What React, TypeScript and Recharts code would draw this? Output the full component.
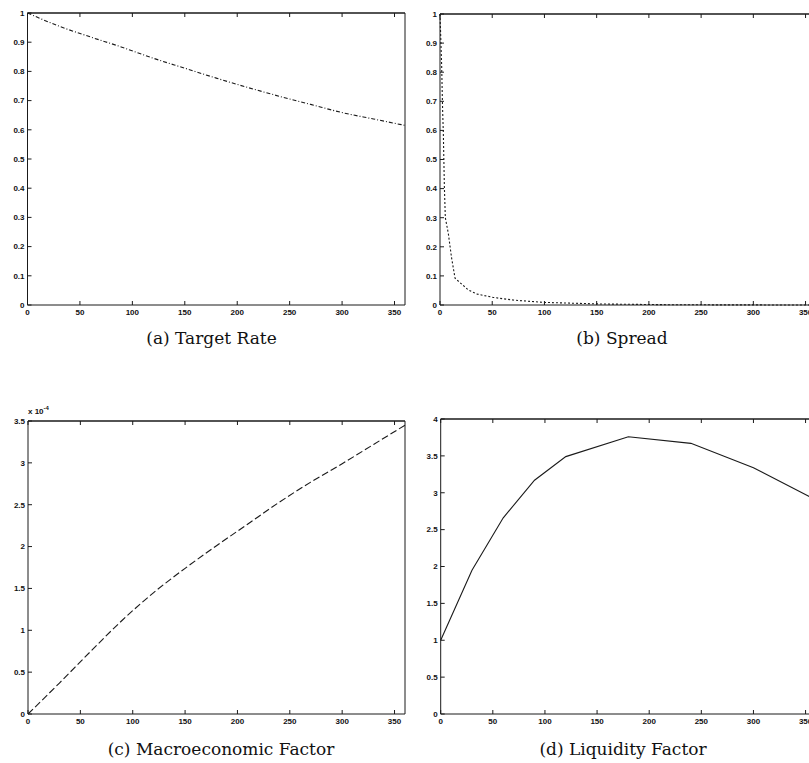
import { LineChart, Line, XAxis, YAxis } from 'recharts';

// horizon (months) on every panel
const monthTicks = [0, 50, 100, 150, 200, 250, 300, 350];
const unitTicks = [0, 0.1, 0.2, 0.3, 0.4, 0.5, 0.6, 0.7, 0.8, 0.9, 1];
const macroTicks = [0, 0.5, 1, 1.5, 2, 2.5, 3, 3.5];
const liquidityTicks = [0, 0.5, 1, 1.5, 2, 2.5, 3, 3.5, 4];

// (a) target rate
const targetMonths = [0, 30, 60, 90, 120, 150, 180, 210, 240, 270, 300, 330, 360];
const targetValues = [1, 0.955, 0.918, 0.883, 0.845, 0.811, 0.777, 0.745, 0.715, 0.687, 0.659, 0.637, 0.615];

// (b) spread
const spreadMonths = [0, 1.6, 2.5, 3.2, 4.2, 5.1, 8, 11, 14.4, 27, 35, 51, 70, 99, 154, 218, 260, 300, 360];
const spreadValues = [1, 0.82, 0.67, 0.59, 0.405, 0.3, 0.245, 0.164, 0.092, 0.052, 0.038, 0.026, 0.017, 0.009, 0.0035, 0.001, 0.0006, 0.0003, 0];

// (c) macroeconomic factor, x 10^-4
const macroMonths = [0, 30, 60, 90, 120, 150, 180, 210, 240, 270, 300, 330, 360];
const macroValues = [0, 0.37, 0.75, 1.12, 1.45, 1.74, 2.01, 2.27, 2.53, 2.77, 2.99, 3.22, 3.45];

// (d) liquidity factor
const liquidityMonths = [0, 30, 60, 90, 120, 180, 240, 300, 360];
const liquidityValues = [1, 1.95, 2.66, 3.17, 3.49, 3.76, 3.67, 3.34, 2.9];

const toRows = (xs: number[], ys: number[]) => xs.map((t, i) => ({ t, v: ys[i] }));

const ink = '#1a1a1a';
const tickFont = { fontSize: 8, fontWeight: 700, fill: '#111', fontFamily: 'Liberation Sans, Arial, sans-serif' };
const blank = () => '';

interface PanelProps {
  left: number;
  top: number;
  width: number;
  height: number;
  margin: { top: number; right: number; left: number; bottom: number };
  yWidth: number;
  xs: number[];
  ys: number[];
  yTicks: number[];
  yMax: number;
  dash?: string;
  curve?: 'linear' | 'monotone';
}

function Panel({ left, top, width, height, margin, yWidth, xs, ys, yTicks, yMax, dash, curve = 'linear' }: PanelProps) {
  return (
    <div style={{ position: 'absolute', left, top }}>
      <LineChart width={width} height={height} data={toRows(xs, ys)} margin={margin}>
        <XAxis
          dataKey="t"
          type="number"
          domain={[0, 360]}
          ticks={monthTicks}
          height={25}
          tick={tickFont}
          tickSize={-4}
          tickMargin={8}
          axisLine={{ stroke: ink }}
          tickLine={{ stroke: ink }}
        />
        <XAxis
          xAxisId="top"
          dataKey="t"
          type="number"
          orientation="top"
          domain={[0, 360]}
          ticks={monthTicks}
          height={1}
          tickFormatter={blank}
          tickSize={-4}
          axisLine={{ stroke: ink, strokeWidth: 1.5 }}
          tickLine={{ stroke: ink }}
        />
        <YAxis
          type="number"
          domain={[0, yMax]}
          ticks={yTicks}
          width={yWidth}
          tick={tickFont}
          tickSize={-4}
          tickMargin={7}
          axisLine={{ stroke: ink }}
          tickLine={{ stroke: ink }}
        />
        <YAxis
          yAxisId="right"
          type="number"
          orientation="right"
          domain={[0, yMax]}
          ticks={yTicks}
          width={1}
          tickFormatter={blank}
          tickSize={-4}
          axisLine={{ stroke: ink }}
          tickLine={{ stroke: ink }}
        />
        <Line
          dataKey="v"
          type={curve}
          stroke={ink}
          strokeWidth={1.1}
          strokeDasharray={dash}
          dot={false}
          isAnimationActive={false}
        />
      </LineChart>
    </div>
  );
}

const captionStyle = {
  position: 'absolute' as const,
  width: 300,
  textAlign: 'center' as const,
  fontFamily: 'DejaVu Serif, serif',
  fontSize: 17,
  lineHeight: '17px',
  color: '#111',
};

export default function App() {
  return (
    <div style={{ position: 'absolute', left: 0, top: 0, width: 809, height: 763, overflow: 'hidden', background: '#fff' }}>
      <Panel
        left={0} top={0} width={420} height={330}
        margin={{ top: 12, right: 14, left: 0, bottom: 0 }} yWidth={27.5}
        xs={targetMonths} ys={targetValues} yTicks={unitTicks} yMax={1} dash="4 2 1 2" curve="monotone"
      />
      <Panel
        left={412} top={0} width={409} height={330}
        margin={{ top: 13, right: 4, left: 0, bottom: 0 }} yWidth={28}
        xs={spreadMonths} ys={spreadValues} yTicks={unitTicks} yMax={1} dash="2 2"
      />
      <Panel
        left={0} top={400} width={420} height={339}
        margin={{ top: 20, right: 14, left: 0, bottom: 0 }} yWidth={28}
        xs={macroMonths} ys={macroValues} yTicks={macroTicks} yMax={3.5} dash="7 3" curve="monotone"
      />
      <Panel
        left={412} top={400} width={409} height={339}
        margin={{ top: 18, right: 4, left: 0, bottom: 0 }} yWidth={28.7}
        xs={liquidityMonths} ys={liquidityValues} yTicks={liquidityTicks} yMax={4}
      />

      <div style={{ position: 'absolute', left: 28, top: 405, fontFamily: 'Liberation Sans, Arial, sans-serif', fontSize: 8, fontWeight: 700, color: '#111' }}>
        x 10<sup style={{ fontSize: 6 }}>-4</sup>
      </div>

      <div style={{ ...captionStyle, left: 61.5, top: 330 }}>(a) Target Rate</div>
      <div style={{ ...captionStyle, left: 472, top: 330 }}>(b) Spread</div>
      <div style={{ ...captionStyle, left: 71, top: 741 }}>(c) Macroeconomic Factor</div>
      <div style={{ ...captionStyle, left: 473, top: 741 }}>(d) Liquidity Factor</div>
    </div>
  );
}
